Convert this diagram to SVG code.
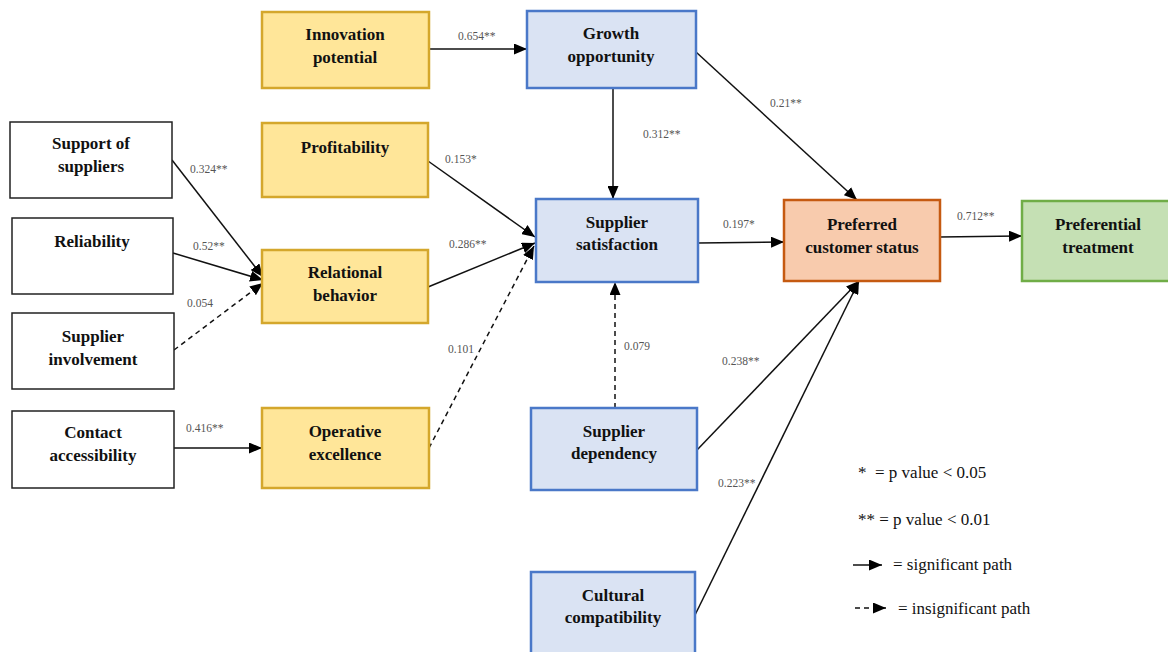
<svg xmlns="http://www.w3.org/2000/svg" width="1168" height="652" viewBox="0 0 1168 652">
  <defs>
    <marker id="arr" markerUnits="userSpaceOnUse" markerWidth="13" markerHeight="11" refX="13" refY="5.5" orient="auto">
      <path d="M0,0 L13,5.5 L0,11 z" fill="#000"/>
    </marker>
    <style>
      .plain { fill: #fff; stroke: #222; stroke-width: 1.5; }
      .yellow { fill: #FFE699; stroke: #D4A72C; stroke-width: 2.5; }
      .blue { fill: #DAE3F3; stroke: #4A78C8; stroke-width: 2.5; }
      .orange { fill: #F8CBAD; stroke: #C55A11; stroke-width: 2.5; }
      .green { fill: #C5E0B4; stroke: #70AD47; stroke-width: 2.5; }
      .lbl { font-family: "Liberation Serif", "Times New Roman", serif; font-weight: bold; font-size: 17px; fill: #111; text-anchor: middle; }
      .coef { font-family: "Liberation Serif", "Times New Roman", serif; font-size: 11.5px; fill: #555; }
      .leg { font-family: "Liberation Serif", "Times New Roman", serif; font-size: 17px; fill: #111; }
      .sig { fill: none; stroke: #111; stroke-width: 1.5; marker-end: url(#arr); }
      .ins { fill: none; stroke: #111; stroke-width: 1.5; stroke-dasharray: 5 4; marker-end: url(#arr); }
    </style>
  </defs>

  <rect width="1168" height="652" fill="#fff"/>

  <!-- connectors -->
  <g id="connectors">
    <line class="sig" x1="172" y1="160" x2="263" y2="277"/>
    <line class="sig" x1="173" y1="253" x2="263" y2="280"/>
    <line class="ins" x1="174" y1="350" x2="263" y2="283"/>
    <line class="sig" x1="174" y1="448" x2="262" y2="448"/>
    <line class="sig" x1="429" y1="49" x2="527" y2="49"/>
    <line class="sig" x1="613" y1="88" x2="613" y2="199"/>
    <line class="sig" x1="696" y1="52" x2="857" y2="200"/>
    <line class="sig" x1="428" y1="161" x2="535" y2="237"/>
    <line class="sig" x1="428" y1="287" x2="535" y2="243"/>
    <line class="ins" x1="429" y1="448" x2="534" y2="246"/>
    <line class="ins" x1="615" y1="408" x2="615" y2="282"/>
    <line class="sig" x1="698" y1="243" x2="784" y2="242"/>
    <line class="sig" x1="940" y1="237" x2="1022" y2="236"/>
    <line class="sig" x1="697" y1="450" x2="859" y2="281"/>
    <line class="sig" x1="695" y1="615" x2="859" y2="281"/>

    <text class="coef" x="190" y="173">0.324**</text>
    <text class="coef" x="193" y="250">0.52**</text>
    <text class="coef" x="187" y="307">0.054</text>
    <text class="coef" x="186" y="432">0.416**</text>
    <text class="coef" x="458" y="40">0.654**</text>
    <text class="coef" x="643" y="138">0.312**</text>
    <text class="coef" x="445" y="163">0.153*</text>
    <text class="coef" x="770" y="107">0.21**</text>
    <text class="coef" x="723" y="228">0.197*</text>
    <text class="coef" x="957" y="220">0.712**</text>
    <text class="coef" x="449" y="248">0.286**</text>
    <text class="coef" x="448" y="353">0.101</text>
    <text class="coef" x="624" y="350">0.079</text>
    <text class="coef" x="722" y="365">0.238**</text>
    <text class="coef" x="718" y="487">0.223**</text>
  </g>

  <!-- antecedent boxes -->
  <g id="support-of-suppliers">
    <rect class="plain" x="10" y="122" width="162" height="76"/>
    <text class="lbl" x="91" y="149">Support of</text>
    <text class="lbl" x="91" y="172">suppliers</text>
  </g>
  <g id="reliability">
    <rect class="plain" x="12" y="218" width="161" height="76"/>
    <text class="lbl" x="92" y="247">Reliability</text>
  </g>
  <g id="supplier-involvement">
    <rect class="plain" x="12" y="313" width="162" height="76"/>
    <text class="lbl" x="93" y="342">Supplier</text>
    <text class="lbl" x="93" y="365">involvement</text>
  </g>
  <g id="contact-accessibility">
    <rect class="plain" x="12" y="411" width="162" height="77"/>
    <text class="lbl" x="93" y="438">Contact</text>
    <text class="lbl" x="93" y="461">accessibility</text>
  </g>

  <!-- attractiveness factors -->
  <g id="innovation-potential">
    <rect class="yellow" x="262" y="12" width="167" height="76"/>
    <text class="lbl" x="345" y="40">Innovation</text>
    <text class="lbl" x="345" y="63">potential</text>
  </g>
  <g id="profitability">
    <rect class="yellow" x="262" y="123" width="166" height="74"/>
    <text class="lbl" x="345" y="153">Profitability</text>
  </g>
  <g id="relational-behavior">
    <rect class="yellow" x="262" y="250" width="166" height="73"/>
    <text class="lbl" x="345" y="278">Relational</text>
    <text class="lbl" x="345" y="301">behavior</text>
  </g>
  <g id="operative-excellence">
    <rect class="yellow" x="262" y="408" width="167" height="80"/>
    <text class="lbl" x="345" y="437">Operative</text>
    <text class="lbl" x="345" y="460">excellence</text>
  </g>

  <!-- blue constructs -->
  <g id="growth-opportunity">
    <rect class="blue" x="527" y="11" width="169" height="77"/>
    <text class="lbl" x="611" y="39">Growth</text>
    <text class="lbl" x="611" y="62">opportunity</text>
  </g>
  <g id="supplier-satisfaction">
    <rect class="blue" x="536" y="199" width="162" height="83"/>
    <text class="lbl" x="617" y="228">Supplier</text>
    <text class="lbl" x="617" y="250">satisfaction</text>
  </g>
  <g id="supplier-dependency">
    <rect class="blue" x="531" y="408" width="166" height="82"/>
    <text class="lbl" x="614" y="437">Supplier</text>
    <text class="lbl" x="614" y="459">dependency</text>
  </g>
  <g id="cultural-compatibility">
    <rect class="blue" x="531" y="572" width="164" height="90"/>
    <text class="lbl" x="613" y="601">Cultural</text>
    <text class="lbl" x="613" y="623">compatibility</text>
  </g>

  <!-- outcomes -->
  <g id="preferred-customer-status">
    <rect class="orange" x="784" y="200" width="156" height="81"/>
    <text class="lbl" x="862" y="230">Preferred</text>
    <text class="lbl" x="862" y="253">customer status</text>
  </g>
  <g id="preferential-treatment">
    <rect class="green" x="1022" y="201" width="150" height="80"/>
    <text class="lbl" x="1098" y="230">Preferential</text>
    <text class="lbl" x="1098" y="253">treatment</text>
  </g>

  <!-- legend -->
  <g id="legend">
    <text class="leg" x="858" y="478" xml:space="preserve">*  = p value &lt; 0.05</text>
    <text class="leg" x="858" y="525">** = p value &lt; 0.01</text>
    <line class="sig" x1="853" y1="565" x2="882" y2="565"/>
    <text class="leg" x="893" y="570">= significant path</text>
    <line class="ins" x1="855" y1="608" x2="886" y2="608"/>
    <text class="leg" x="898" y="614">= insignificant path</text>
  </g>
</svg>
